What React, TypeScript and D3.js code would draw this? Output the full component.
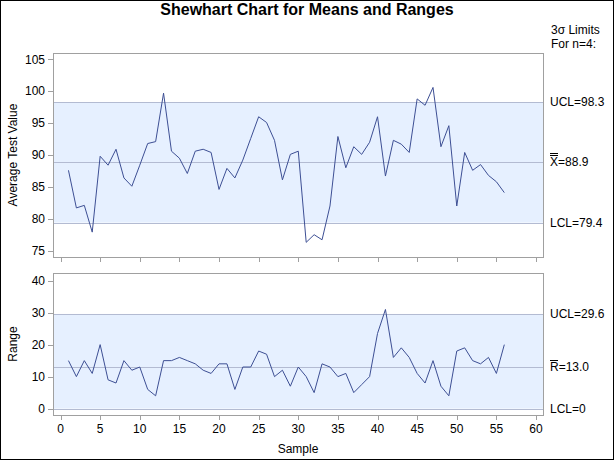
import React from "react";
import * as d3 from "d3";

// subgroup means (n=4) and ranges, samples 1..56
const samples = d3.range(1, 57);
const means = [
  87.6, 81.7, 82.1, 77.9, 89.8, 88.4, 90.9, 86.4, 85.1, 88.4,
  91.8, 92.1, 99.7, 90.6, 89.5, 87.1, 90.6, 90.9, 90.4, 84.6,
  87.9, 86.4, 89.2, 92.6, 96.0, 95.1, 92.3, 86.1, 90.1, 90.6,
  76.3, 77.5, 76.7, 82.0, 92.9, 88.0, 91.3, 90.1, 92.0, 96.0,
  86.7, 92.3, 91.7, 90.4, 98.8, 97.8, 100.6, 91.3, 94.6, 82.0,
  90.4, 87.6, 88.5, 86.8, 85.8, 84.1,
];
const ranges = [
  15, 10, 15, 11, 20, 9, 8, 15, 12, 13,
  6, 4, 15, 15, 16, 15, 14, 12, 11, 14,
  14, 6, 13, 13, 18, 17, 10, 12, 7, 13,
  10, 5, 14, 13, 10, 11, 5, 7.5, 10, 23.5,
  31, 16, 19, 16, 11, 8, 15, 7, 4, 18,
  19, 15, 14, 16, 11, 20,
];
const meanLimits = { lcl: 79.4, center: 88.9, ucl: 98.3 };
const rangeLimits = { lcl: 0, center: 13.0, ucl: 29.6 };
const meanTicks = [75, 80, 85, 90, 95, 100, 105];
const rangeTicks = [0, 10, 20, 30, 40];
const xTicks = d3.range(0, 61, 5);

const W = 614;
const H = 460;
const left = 53;
const right = 543;
const font = "'Liberation Sans', Arial, sans-serif";
const lineColor = "#3d4f94";
const bandFill = "#e6f0ff";
const bandLine = "#b3bbd2";
const frameColor = "#a0a0a0";

const x = d3.scaleLinear().domain([-0.95, 60.88]).range([left, right]);

type PanelProps = {
  top: number;
  bottom: number;
  domain: [number, number];
  ticks: number[];
  values: number[];
  limits: { lcl: number; center: number; ucl: number };
  label: string;
  showXLabels: boolean;
  centerLabel: React.ReactNode;
  uclText: string;
  lclText: string;
};

const Panel = (p: PanelProps) => {
  const y = d3.scaleLinear().domain(p.domain).range([p.bottom, p.top]);
  const line = d3
    .line<number>()
    .x((d, i) => x(samples[i]))
    .y((d) => y(d));
  const r = (v: number) => Math.round(v) + 0.5;
  return (
    <g>
      {/* control band */}
      <rect
        x={left}
        y={y(p.limits.ucl)}
        width={right - left}
        height={y(p.limits.lcl) - y(p.limits.ucl)}
        fill={bandFill}
      />
      {[p.limits.ucl, p.limits.center, p.limits.lcl].map((v) => (
        <line key={v} x1={left} x2={right} y1={r(y(v))} y2={r(y(v))} stroke={bandLine} />
      ))}
      <path d={line(p.values) || ""} fill="none" stroke={lineColor} strokeWidth={1} />
      {/* frame */}
      <rect
        x={left + 0.5}
        y={p.top + 0.5}
        width={right - left}
        height={p.bottom - p.top}
        fill="none"
        stroke={frameColor}
      />
      {/* y axis */}
      {p.ticks.map((t) => (
        <g key={t}>
          <line x1={left - 5} x2={left} y1={r(y(t))} y2={r(y(t))} stroke={frameColor} />
          <text
            x={left - 8}
            y={y(t)}
            dy="0.35em"
            textAnchor="end"
            fontSize={12}
            fontFamily={font}
          >
            {t}
          </text>
        </g>
      ))}
      <text
        transform={`translate(17,${(p.top + p.bottom) / 2}) rotate(-90)`}
        textAnchor="middle"
        fontSize={12}
        fontFamily={font}
      >
        {p.label}
      </text>
      {/* x axis */}
      {xTicks.map((t) => (
        <g key={t}>
          <line
            x1={r(x(t))}
            x2={r(x(t))}
            y1={p.bottom + 1}
            y2={p.bottom + 5}
            stroke={frameColor}
          />
          {p.showXLabels && (
            <text
              x={x(t)}
              y={p.bottom + 18}
              textAnchor="middle"
              fontSize={12}
              fontFamily={font}
            >
              {t}
            </text>
          )}
        </g>
      ))}
      {/* limit labels */}
      <text x={550} y={y(p.limits.ucl)} dy="0.35em" fontSize={12} fontFamily={font}>
        {p.uclText}
      </text>
      <g transform={`translate(550,${y(p.limits.center)})`}>{p.centerLabel}</g>
      <text x={550} y={y(p.limits.lcl)} dy="0.35em" fontSize={12} fontFamily={font}>
        {p.lclText}
      </text>
    </g>
  );
};

const barLabel = (letter: string, value: string, bars: number) => (
  <g>
    <text dy="0.35em" fontSize={12} fontFamily={font}>
      {letter}={value}
    </text>
    {d3.range(bars).map((b) => (
      <line key={b} x1={0} x2={8} y1={-6.5 - b * 2} y2={-6.5 - b * 2} stroke="#000" strokeWidth={1} />
    ))}
  </g>
);

export default function App() {
  return (
    <svg
      width={W}
      height={H}
      style={{ position: "absolute", left: 0, top: 0, background: "#fff" }}
    >
      <rect x={0.5} y={0.5} width={W - 1} height={H - 1} fill="#fff" stroke="#000" />
      <text
        x={W / 2}
        y={15}
        textAnchor="middle"
        fontSize={16}
        fontWeight="bold"
        fontFamily={font}
      >
        Shewhart Chart for Means and Ranges
      </text>
      <text x={551} y={34} fontSize={12} fontFamily={font}>
        3σ Limits
      </text>
      <text x={551} y={48} fontSize={12} fontFamily={font}>
        For n=4:
      </text>
      <Panel
        top={53}
        bottom={257}
        domain={[74.0, 106.0]}
        ticks={meanTicks}
        values={means}
        limits={meanLimits}
        label="Average Test Value"
        showXLabels={false}
        centerLabel={barLabel("X", meanLimits.center.toFixed(1), 2)}
        uclText={`UCL=${meanLimits.ucl.toFixed(1)}`}
        lclText={`LCL=${meanLimits.lcl.toFixed(1)}`}
      />
      <Panel
        top={273}
        bottom={415}
        domain={[-2, 42.4]}
        ticks={rangeTicks}
        values={ranges}
        limits={rangeLimits}
        label="Range"
        showXLabels={true}
        centerLabel={barLabel("R", rangeLimits.center.toFixed(1), 1)}
        uclText={`UCL=${rangeLimits.ucl.toFixed(1)}`}
        lclText={`LCL=${rangeLimits.lcl}`}
      />
      <text x={(left + right) / 2} y={453} textAnchor="middle" fontSize={12} fontFamily={font}>
        Sample
      </text>
    </svg>
  );
}
